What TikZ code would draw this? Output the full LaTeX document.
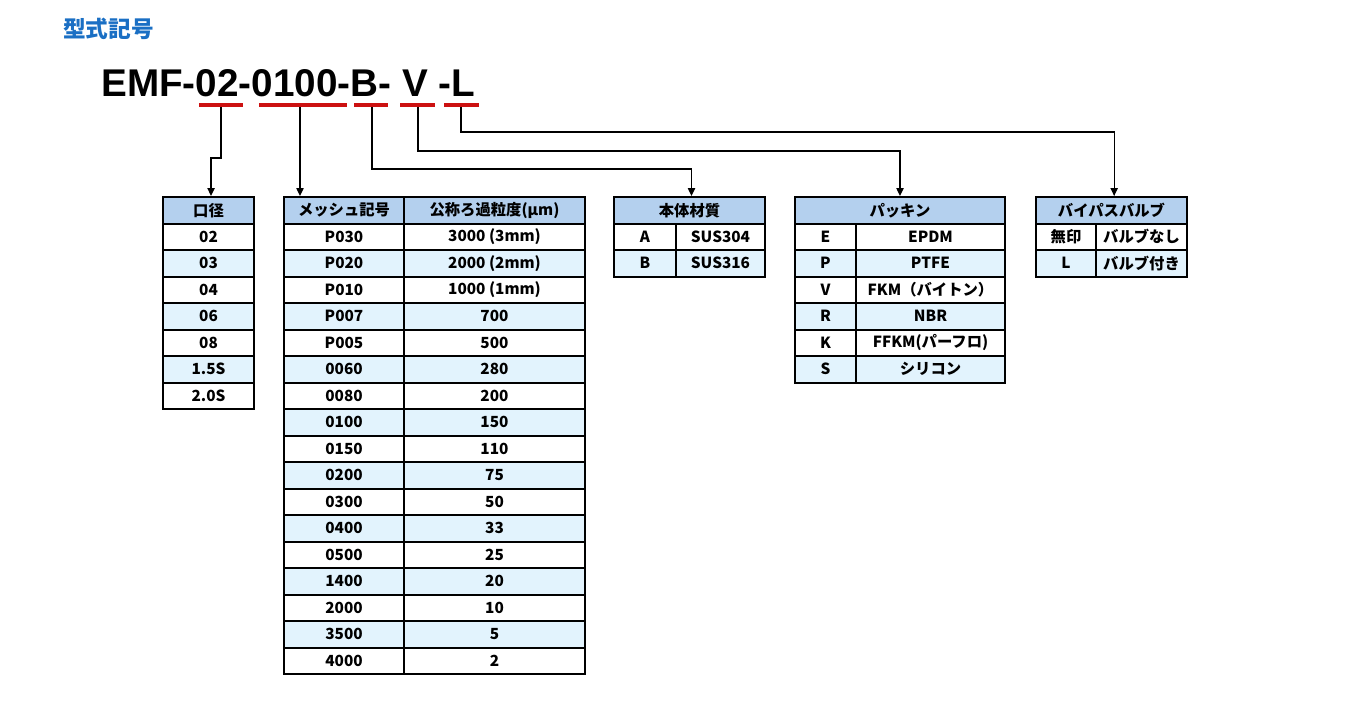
\documentclass[tikz,border=0pt]{standalone}
\usepackage{fontspec}
\setmainfont{Liberation Sans}
\newfontfamily\jp{Noto Sans CJK JP}
\usetikzlibrary{arrows.meta,calc}
\definecolor{hdrblue}{HTML}{B4D0EE}
\definecolor{rowblue}{HTML}{E2F3FD}
\definecolor{ttlblue}{HTML}{1A6FC4}
\definecolor{ulred}{HTML}{CC1111}
\tikzset{
  cell/.style={draw=black, line width=1.5pt, inner sep=0pt, font=\jp\bfseries\fontsize{11.5}{12}\selectfont},
  conn/.style={draw=black, line width=1pt, -{Triangle[length=6pt,width=5.5pt]}},
  uline/.style={draw=ulred, line width=3pt},
}
\newcommand\cellnode[7]{%
  \node[cell, fill=#6, minimum width={((#4)-(#2))*0.75pt}, minimum height={((#5)-(#3))*0.75pt}] (#1) at ({((#2)+(#4))/2},{((#3)+(#5))/2}) {#7};}
\begin{document}
\begin{tikzpicture}[x=0.75pt,y=-0.75pt]
\useasboundingbox (0,0) rectangle (1350,725);
% title
\node[anchor=north west, inner sep=0pt, text=ttlblue, font=\jp\bfseries\fontsize{17}{18}\selectfont] (title) at (63,18) {型式記号};
% model code
\node[anchor=base west, inner sep=0pt, font=\bfseries\fontsize{29}{30}\selectfont] (code) at (101,96) {EMF-02-0100-B- V -L};
\draw[uline] (199,105) -- (243,105);
\draw[uline] (259,105) -- (347,105);
\draw[uline] (354,105) -- (388,105);
\draw[uline] (400,105) -- (435,105);
\draw[uline] (444,105) -- (479,105);
\coordinate (u1) at (221,107);
\coordinate (u2) at (300,107);
\coordinate (u3) at (372,107);
\coordinate (u4) at (418,107);
\coordinate (u5) at (461,107);
% table 1
\cellnode{t1h}{163}{197}{254}{223.5}{hdrblue}{口径}
\foreach \v [count=\i] in {02,03,04,06,08,1.5S,2.0S}{%
  \ifodd\i \def\rf{white}\else\def\rf{rowblue}\fi
  \cellnode{t1r\i}{163}{197+26.5*\i}{254}{197+26.5*(\i+1)}{\rf}{\v}
}
% table 2
\cellnode{t2h1}{284}{197}{404}{223.5}{hdrblue}{メッシュ記号}
\cellnode{t2h2}{404}{197}{585}{223.5}{hdrblue}{公称ろ過粒度(μm)}
\foreach \c/\v [count=\i] in {P030/3000 (3mm),P020/2000 (2mm),P010/1000 (1mm),P007/700,P005/500,0060/280,0080/200,0100/150,0150/110,0200/75,0300/50,0400/33,0500/25,1400/20,2000/10,3500/5,4000/2}{%
  \ifodd\i \def\rf{white}\else\def\rf{rowblue}\fi
  \cellnode{t2a\i}{284}{197+26.5*\i}{404}{197+26.5*(\i+1)}{\rf}{\c}
  \cellnode{t2b\i}{404}{197+26.5*\i}{585}{197+26.5*(\i+1)}{\rf}{\v}
}
% table 3
\cellnode{t3h}{614}{197}{765}{223.5}{hdrblue}{本体材質}
\foreach \c/\v [count=\i] in {A/SUS304,B/SUS316}{%
  \ifodd\i \def\rf{white}\else\def\rf{rowblue}\fi
  \cellnode{t3a\i}{614}{197+26.5*\i}{676}{197+26.5*(\i+1)}{\rf}{\c}
  \cellnode{t3b\i}{676}{197+26.5*\i}{765}{197+26.5*(\i+1)}{\rf}{\v}
}
% table 4
\cellnode{t4h}{795}{197}{1005}{223.5}{hdrblue}{パッキン}
\foreach \c/\v [count=\i] in {E/EPDM,P/PTFE,V/FKM（バイトン）,R/NBR,K/FFKM(パーフロ),S/シリコン}{%
  \ifodd\i \def\rf{white}\else\def\rf{rowblue}\fi
  \cellnode{t4a\i}{795}{197+26.5*\i}{856}{197+26.5*(\i+1)}{\rf}{\c}
  \cellnode{t4b\i}{856}{197+26.5*\i}{1005}{197+26.5*(\i+1)}{\rf}{\v}
}
% table 5
\cellnode{t5h}{1036}{197}{1187}{223.5}{hdrblue}{バイパスバルブ}
\foreach \c/\v [count=\i] in {無印/バルブなし,L/バルブ付き}{%
  \ifodd\i \def\rf{white}\else\def\rf{rowblue}\fi
  \cellnode{t5a\i}{1036}{197+26.5*\i}{1096}{197+26.5*(\i+1)}{\rf}{\c}
  \cellnode{t5b\i}{1096}{197+26.5*\i}{1187}{197+26.5*(\i+1)}{\rf}{\v}
}
% connectors
\draw[conn] (u1) -- ++(0,51) -| ([xshift=1.9pt]t1h.north);
\draw[conn] (u2) -- (u2 |- t2h1.north);
\draw[conn] (u3) -- ++(0,62) -| ([xshift=1.5pt]t3h.north);
\draw[conn] (u4) -- ++(0,44) -| (t4h.north);
\draw[conn] (u5) -- ++(0,25) -| ([xshift=2pt]t5h.north);
\end{tikzpicture}
\end{document}
